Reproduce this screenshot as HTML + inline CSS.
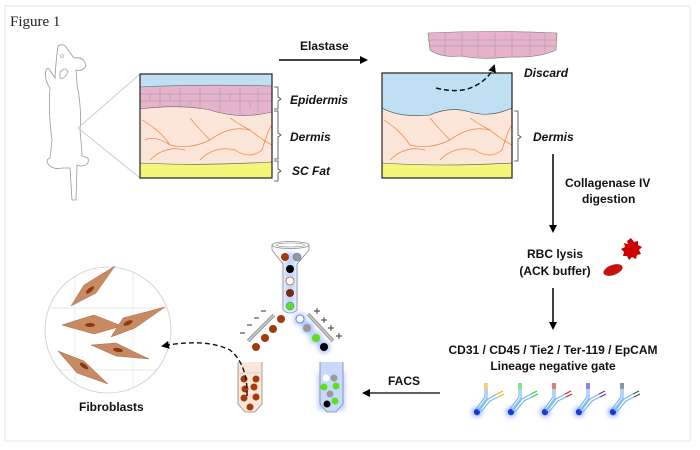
<!DOCTYPE html>
<html><head><meta charset="utf-8"><style>
html,body{margin:0;padding:0;background:#fff;}
svg{display:block;}
.b{font-family:"Liberation Sans",sans-serif;font-weight:bold;font-size:12px;fill:#111;}
.bi{font-family:"Liberation Sans",sans-serif;font-weight:bold;font-style:italic;font-size:12px;fill:#111;}
</style></head><body>
<svg width="700" height="450" viewBox="0 0 700 450" xmlns="http://www.w3.org/2000/svg">
<defs>
<marker id="ah" markerWidth="8" markerHeight="8" refX="6" refY="4" orient="auto" markerUnits="userSpaceOnUse"><path d="M0,0 L8,4 L0,8 Z" fill="#000"/></marker>
<filter id="glow" x="-1" y="-1" width="3" height="3"><feGaussianBlur stdDeviation="2.5"/></filter>
<clipPath id="c1"><rect x="140" y="74" width="132" height="104"/></clipPath>
<clipPath id="c2"><rect x="382" y="73" width="130" height="105"/></clipPath>
<clipPath id="cc"><circle cx="108" cy="330" r="63"/></clipPath>
<g id="abody">
<circle r="5.5" fill="#4a7aff" opacity="0.45" filter="url(#glow)"/><circle r="3.2" fill="#1a3ad8"/>
<path d="M-1,-3 L8,-15 L8,-23 M2,-1 L11,-13 L20,-18 M4,0 L13,-11 L21,-15 M1,-2 L10,-14 L10,-23" fill="none" stroke="#7ab8ee" stroke-width="1.2"/>
</g>
</defs>
<rect x="5" y="6" width="685" height="435" fill="#fff" stroke="#e6e6e6"/>
<text x="10" y="26" font-family="Liberation Serif,serif" font-size="15" fill="#222">Figure 1</text>

<!-- mouse -->
<path d="M58,46 Q64,42 68,50 L74,58 Q84,56 86,66 Q82,72 76,70 L77,84 Q82,110 80,130 Q82,150 82,156 L88,158 Q90,166 80,166 L77,165 L76,200 L72,200 L70,168 L62,168 Q56,170 50,166 Q44,160 50,158 L52,140 Q48,110 50,88 Q44,80 46,70 Q48,66 51,72 L55,78 Q56,60 58,46 Z M60,72 Q66,66 68,72 Q64,80 60,78 Z" fill="none" stroke="#999" stroke-width="0.8"/>
<circle cx="62" cy="56" r="1.5" fill="none" stroke="#999" stroke-width="0.6"/>
<path d="M140,74 L78,128 L140,178" fill="none" stroke="#c3d3c8" stroke-width="1"/>

<!-- skin box 1 -->
<g clip-path="url(#c1)">
<rect x="140" y="74" width="132" height="104" fill="#fbe6d9"/>
<rect x="140" y="74" width="132" height="14" fill="#bfdff3"/>
<path d="M140,87 Q200,84 272,86 L272,112 Q240,120 210,110 Q180,104 140,109 Z" fill="#e7b2cc" stroke="#666" stroke-width="0.6"/>
<g stroke="#999" stroke-width="0.5" fill="none">
<path d="M140,94 H272 M140,101 H272 M160,88 V108 M180,88 V108 M200,88 V108 M220,88 V112 M240,88 V114 M258,88 V112 M150,94 V101 M170,94 V101 M190,101 V108 M230,94 V101 M250,101 V108"/>
</g>
<g stroke="#f08040" stroke-width="0.7" fill="none">
<path d="M142,120 Q160,130 170,145 Q190,150 210,140 Q230,125 250,130 Q262,140 272,145"/>
<path d="M150,160 Q165,145 185,150 M200,160 Q215,145 235,150 Q250,160 262,150 Q268,130 272,125"/>
<path d="M190,118 Q200,130 210,140 M230,118 Q240,125 250,130 M145,140 Q155,135 170,145"/>
</g>
<path d="M140,163 Q200,166 272,162 L272,178 L140,178 Z" fill="#f4f67a" stroke="#555" stroke-width="0.6"/>
</g>
<rect x="140" y="74" width="132" height="104" fill="none" stroke="#222" stroke-width="1.2"/>
<g fill="none" stroke="#444" stroke-width="0.8">
<path d="M274,87 h4 v10 l3,2 l-3,2 v8 h-4"/>
<path d="M274,111 h4 v22 l3,2 l-3,2 v22 h-4"/>
<path d="M274,161 h4 v8 l3,2 l-3,2 v8 h-4"/>
</g>
<text x="290" y="104" class="bi">Epidermis</text>
<text x="290" y="141" class="bi">Dermis</text>
<text x="292" y="175" class="bi">SC Fat</text>

<!-- elastase -->
<text x="300" y="50" class="b">Elastase</text>
<line x1="279" y1="60" x2="366" y2="60" stroke="#000" stroke-width="1.5" marker-end="url(#ah)"/>

<!-- discarded epidermis -->
<path d="M428,33 Q490,30 557,33 L556,50 Q540,58 510,57 Q480,60 462,56 Q440,58 430,50 Z" fill="#e7b2cc" stroke="#777" stroke-width="0.6"/>
<g stroke="#999" stroke-width="0.5" fill="none"><path d="M428,40 H557 M430,46 H556 M445,33 V56 M462,33 V58 M478,33 V58 M495,33 V57 M512,33 V57 M530,33 V55 M545,33 V52"/></g>

<!-- skin box 2 -->
<g clip-path="url(#c2)">
<rect x="382" y="73" width="130" height="105" fill="#fbe6d9"/>
<path d="M382,73 H512 V108 Q490,118 470,112 Q450,106 430,115 Q400,118 382,108 Z" fill="#bfdff3"/>
<path d="M382,108 Q400,118 430,115 Q450,106 470,112 Q490,118 512,108" fill="none" stroke="#444" stroke-width="0.6"/>
<g stroke="#f08040" stroke-width="0.7" fill="none">
<path d="M384,120 Q400,130 410,145 Q430,150 450,140 Q470,125 490,130 Q502,140 512,145"/>
<path d="M390,160 Q405,145 425,150 M440,160 Q455,145 475,150 Q490,160 502,150 Q508,130 512,125"/>
<path d="M430,118 Q440,130 450,140 M470,118 Q480,125 490,130"/>
</g>
<path d="M382,163 Q440,167 512,163 L512,178 L382,178 Z" fill="#f4f67a" stroke="#555" stroke-width="0.6"/>
</g>
<rect x="382" y="73" width="130" height="105" fill="none" stroke="#222" stroke-width="1.2"/>
<path d="M436,88 Q460,94 475,86 Q490,78 494,66" fill="none" stroke="#111" stroke-width="1.5" stroke-dasharray="5,3" marker-end="url(#ah)"/>
<text x="524" y="77" class="bi">Discard</text>
<path d="M514,111 h4 v24 l3,2 l-3,2 v22 h-4" fill="none" stroke="#444" stroke-width="0.8"/>
<text x="533" y="141" class="bi">Dermis</text>

<!-- vertical arrows -->
<line x1="553" y1="154" x2="553" y2="231" stroke="#000" stroke-width="1.5" marker-end="url(#ah)"/>
<text x="565" y="187" class="b">Collagenase IV</text>
<text x="582" y="203" class="b">digestion</text>
<text x="555" y="258" class="b" text-anchor="middle">RBC lysis</text>
<text x="555" y="275" class="b" text-anchor="middle">(ACK buffer)</text>
<path d="M627,241 l4,-3 l3,4 l4,-1 l0,4 l4,2 l-3,3 l2,4 l-4,1 l-1,4 l-4,-2 l-3,3 l-2,-4 l-4,0 l1,-4 l-3,-3 l4,-2 l-1,-4 l4,1 Z" fill="#c00"/>
<ellipse cx="613" cy="270" rx="10" ry="5" transform="rotate(-20 613 270)" fill="#c8100f"/>
<line x1="553" y1="288" x2="553" y2="328" stroke="#000" stroke-width="1.5" marker-end="url(#ah)"/>
<text x="553" y="354" class="b" text-anchor="middle">CD31 / CD45 / Tie2 / Ter-119 / EpCAM</text>
<text x="553" y="370" class="b" text-anchor="middle">Lineage negative gate</text>

<!-- antibodies -->
<g transform="translate(477,412)"><use href="#abody"/><path d="M8,-23 V-29 M10,-23 V-29 M20,-18 L26,-21 M21,-15 L27,-18" stroke="#f0b020" stroke-width="1.2"/></g>
<g transform="translate(511,412)"><use href="#abody"/><path d="M8,-23 V-29 M10,-23 V-29 M20,-18 L26,-21 M21,-15 L27,-18" stroke="#30d030" stroke-width="1.2"/></g>
<g transform="translate(545,412)"><use href="#abody"/><path d="M8,-23 V-29 M10,-23 V-29 M20,-18 L26,-21 M21,-15 L27,-18" stroke="#e02020" stroke-width="1.2"/></g>
<g transform="translate(579,412)"><use href="#abody"/><path d="M8,-23 V-29 M10,-23 V-29 M20,-18 L26,-21 M21,-15 L27,-18" stroke="#5030d0" stroke-width="1.2"/></g>
<g transform="translate(613,412)"><use href="#abody"/><path d="M8,-23 V-29 M10,-23 V-29 M20,-18 L26,-21 M21,-15 L27,-18" stroke="#405060" stroke-width="1.2"/></g>

<!-- FACS arrow -->
<text x="388" y="385" class="b">FACS</text>
<line x1="440" y1="393" x2="364" y2="393" stroke="#000" stroke-width="1.3" marker-end="url(#ah)"/>

<!-- sorter -->
<rect x="284" y="252" width="12" height="60" rx="4" fill="#8ab0ff" opacity="0.5" filter="url(#glow)"/>
<path d="M272,245 L272,250 L283,264 L283,310 Q290,316 297,310 L297,264 L309,250 L309,245" fill="none" stroke="#888" stroke-width="0.8"/>
<ellipse cx="290.5" cy="245" rx="18.5" ry="3.5" fill="none" stroke="#888" stroke-width="0.8"/>
<ellipse cx="290.5" cy="245" rx="14" ry="2" fill="none" stroke="#888" stroke-width="0.6"/>
<circle cx="285" cy="257" r="4" fill="#a33c0a"/>
<circle cx="297" cy="257" r="4" fill="#999" stroke="#5577cc" stroke-width="0.6"/>
<circle cx="290" cy="269" r="4" fill="#000"/>
<circle cx="290" cy="281" r="4" fill="#fff" stroke="#c06030" stroke-width="0.8"/>
<circle cx="290" cy="293" r="4" fill="#7a2a10"/>
<circle cx="290" cy="306" r="4" fill="#5ce01a" stroke="#5577cc" stroke-width="0.5"/>
<line x1="248" y1="341" x2="274" y2="315" stroke="#999" stroke-width="3.5"/>
<line x1="248" y1="341" x2="274" y2="315" stroke="#ccc" stroke-width="1.5"/>
<line x1="308" y1="314" x2="333" y2="341" stroke="#999" stroke-width="3.5"/>
<line x1="308" y1="314" x2="333" y2="341" stroke="#ccc" stroke-width="1.5"/>
<g fill="#a33c0a"><circle cx="281" cy="319" r="4"/><circle cx="273" cy="329" r="4"/><circle cx="265" cy="338" r="4"/><circle cx="256" cy="347" r="4"/></g>
<g opacity="0.6" filter="url(#glow)" fill="#6a95ff"><circle cx="300" cy="319" r="6"/><circle cx="308" cy="328" r="6"/><circle cx="316" cy="338" r="6"/><circle cx="324" cy="347" r="6"/></g>
<circle cx="300" cy="319" r="4" fill="#fff" stroke="#5577cc" stroke-width="0.8"/>
<circle cx="307" cy="328" r="4" fill="#999"/>
<circle cx="316" cy="338" r="4" fill="#5ce01a"/>
<circle cx="324" cy="347" r="4" fill="#000"/>
<g stroke="#333" stroke-width="0.9"><path d="M261,311h5 M254,318h5 M247,325h5 M240,333h5"/>
<path d="M314,311h6 M317,308v6 M321,320h6 M324,317v6 M328,328h6 M331,325v6 M336,336h6 M339,333v6"/></g>

<!-- tubes -->
<path d="M238,362 L238,404 L245,412 L255,412 L262,404 L262,362" fill="#fbe6d9" stroke="#888" stroke-width="0.8"/>
<line x1="238" y1="373" x2="262" y2="373" stroke="#bbb" stroke-width="0.6"/>
<g fill="#a33c0a"><circle cx="244" cy="379" r="3.5"/><circle cx="256" cy="379" r="3.5"/><circle cx="245" cy="389" r="3.5"/><circle cx="254" cy="387" r="3.5"/><circle cx="244" cy="398" r="3.5"/><circle cx="256" cy="397" r="3.5"/><circle cx="250" cy="407" r="3.5"/></g>
<rect x="318" y="372" width="27" height="38" fill="#7aa0ff" opacity="0.5" filter="url(#glow)"/>
<path d="M320,362 L320,404 L327,412 L336,412 L343,404 L343,362" fill="#c8d8ff" stroke="#888" stroke-width="0.8"/>
<g><circle cx="326" cy="378" r="3.5" fill="#fff"/><circle cx="334" cy="378" r="3.5" fill="#999"/><circle cx="324" cy="387" r="3.5" fill="#5ce01a"/><circle cx="336" cy="386" r="3.5" fill="#5ce01a"/><circle cx="330" cy="394" r="3.5" fill="#999"/><circle cx="335" cy="401" r="3.5" fill="#5ce01a"/><circle cx="327" cy="404" r="3.5" fill="#000"/></g>

<!-- fibroblasts circle -->
<circle cx="108" cy="330" r="63" fill="#fff" stroke="#ccc" stroke-width="0.8"/>
<g clip-path="url(#cc)" stroke="#dde4e4" stroke-width="0.7"><path d="M75,260 V400 M133,260 V400 M40,308 H180 M40,370 H180"/></g>
<g fill="#c88a62" stroke="#a66a42" stroke-width="0.5">
<path d="M71,306 L84,285 L115,266 L96,293 Z"/>
<path d="M62,325 L84,318 L94,315 L122,326 L94,334 Z"/>
<path d="M111,337 L123,318 L165,307 L135,328 Z"/>
<path d="M91,345 L116,343 L149,359 L116,356 Z"/>
<path d="M58,351 L84,361 L108,384 L77,373 Z"/>
</g>
<g fill="#8a3a10"><ellipse cx="90" cy="290" rx="5" ry="2" transform="rotate(-40 90 290)"/><ellipse cx="90" cy="325" rx="5" ry="2"/><ellipse cx="128" cy="323" rx="5" ry="2" transform="rotate(-25 128 323)"/><ellipse cx="118" cy="350" rx="5" ry="2" transform="rotate(10 118 350)"/><ellipse cx="84" cy="366" rx="5" ry="2" transform="rotate(35 84 366)"/></g>
<text x="79" y="411" class="b">Fibroblasts</text>

<path d="M247,396 Q248,365 230,350 Q205,338 163,346" fill="none" stroke="#111" stroke-width="1.4" stroke-dasharray="5,3" marker-end="url(#ah)"/>
</svg>
</body></html>
